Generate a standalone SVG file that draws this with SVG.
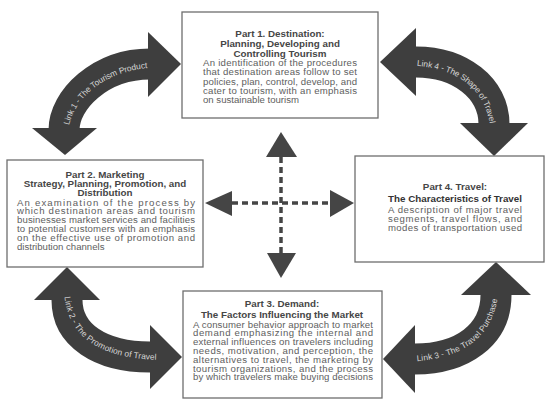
<svg xmlns="http://www.w3.org/2000/svg" width="545" height="400" viewBox="0 0 545 400">
<defs>
<style>
.box{fill:#fff;stroke:#6e6e6e;stroke-width:1.3}
.h{font-family:"Liberation Sans",Arial,sans-serif;font-size:9.8px;font-weight:bold;fill:#464646;text-anchor:middle}
.b{font-family:"Liberation Sans",Arial,sans-serif;font-size:9.6px;fill:#5e5e5e}
.band{fill:none;stroke:#3e3e3e;stroke-width:31}
.head{fill:#3e3e3e}
.lbl{font-family:"Liberation Sans",Arial,sans-serif;font-size:8.4px;fill:#d6d6d6}
.dash{stroke:#454545;stroke-width:3.5;stroke-dasharray:6 4;fill:none}
.tri{fill:#454545}
</style>
<path id="t1" d="M64,142 C64,100 100,64 165,64"/>
<path id="t4" d="M400,62 C460,62 494,88 494,140"/>
<path id="t2" d="M67,286 C67,335 100,357 167,357"/>
<path id="t3" d="M398,359 C462,359 496,335 496,280"/>
</defs>
<rect width="545" height="400" fill="#fff"/>

<g id="connectors">
  <g id="link1">
    <path class="band" d="M64,130 C64,100 100,64 150,64"/>
    <polygon class="head" points="32,128 97,128 65,155"/>
    <polygon class="head" points="148,32 148,97 181,64"/>
    <text class="lbl" dy="3"><textPath href="#t1" startOffset="50%" text-anchor="middle">Link 1 - The Tourism Product</textPath></text>
  </g>
  <g id="link4">
    <path class="band" d="M416,62 C460,62 494,88 494,124"/>
    <polygon class="head" points="416,28 416,96 380,62"/>
    <polygon class="head" points="460,123 528,123 494,156"/>
    <text class="lbl" dy="3"><textPath href="#t4" startOffset="50%" text-anchor="middle">Link 4 - The Shape of Travel</textPath></text>
  </g>
  <g id="link2">
    <path class="band" d="M67,300 C67,335 100,357 150,357"/>
    <polygon class="head" points="34,300 100,300 67,267"/>
    <polygon class="head" points="150,325 150,389 182,357"/>
    <text class="lbl" dy="3"><textPath href="#t2" startOffset="50%" text-anchor="middle">Link 2 - The Promotion of Travel</textPath></text>
  </g>
  <g id="link3">
    <path class="band" d="M415,359 C462,359 496,335 496,295"/>
    <polygon class="head" points="415,325 415,393 383,359"/>
    <polygon class="head" points="461,295 531,295 496,262"/>
    <text class="lbl" dy="3"><textPath href="#t3" startOffset="50%" text-anchor="middle">Link 3 - The Travel Purchase</textPath></text>
  </g>
  <g id="cross">
    <path class="dash" d="M232,203 H330 M281,157 V253"/>
    <polygon class="tri" points="281,132 266,157 297,157"/>
    <polygon class="tri" points="281,278 267,253 296,253"/>
    <polygon class="tri" points="205,203 232,191 232,216"/>
    <polygon class="tri" points="354,203 330,190 330,217"/>
  </g>
</g>

<g id="part1">
  <rect class="box" x="182" y="12" width="196" height="106"/>
  <text class="h" x="280" y="37">Part 1. Destination:</text>
  <text class="h" x="280" y="47">Planning, Developing and</text>
  <text class="h" x="280" y="56.5">Controlling Tourism</text>
  <text class="b" x="203" y="66" textLength="154" lengthAdjust="spacing">An identification of the procedures</text>
  <text class="b" x="203" y="75.3" textLength="154" lengthAdjust="spacing">that destination areas follow to set</text>
  <text class="b" x="203" y="84.6" textLength="154" lengthAdjust="spacing">policies, plan, control, develop, and</text>
  <text class="b" x="203" y="93.9" textLength="154" lengthAdjust="spacing">cater to tourism, with an emphasis</text>
  <text class="b" x="203" y="103.2">on sustainable tourism</text>
</g>

<g id="part2">
  <rect class="box" x="7" y="160" width="196" height="107"/>
  <text class="h" x="105" y="177.5">Part 2. Marketing</text>
  <text class="h" x="105" y="186.5">Strategy, Planning, Promotion, and</text>
  <text class="h" x="105" y="195.5">Distribution</text>
  <text class="b" x="17" y="205.5" textLength="178" lengthAdjust="spacing">An examination of the process by</text>
  <text class="b" x="17" y="214.3" textLength="178" lengthAdjust="spacing">which destination areas and tourism</text>
  <text class="b" x="17" y="223.1" textLength="178" lengthAdjust="spacing">businesses market services and facilities</text>
  <text class="b" x="17" y="231.9" textLength="178" lengthAdjust="spacing">to potential customers with an emphasis</text>
  <text class="b" x="17" y="240.7" textLength="178" lengthAdjust="spacing">on the effective use of promotion and</text>
  <text class="b" x="17" y="249.5">distribution channels</text>
</g>

<g id="part4">
  <rect class="box" x="355" y="156" width="189" height="106"/>
  <text class="h" x="455" y="189.5">Part 4. Travel:</text>
  <text class="h" x="455" y="201.5" style="fill:#333">The Characteristics of Travel</text>
  <text class="b" x="388" y="213" textLength="134" lengthAdjust="spacing">A description of major travel</text>
  <text class="b" x="388" y="221.8" textLength="134" lengthAdjust="spacing">segments, travel flows, and</text>
  <text class="b" x="388" y="230.6" textLength="134" lengthAdjust="spacing">modes of transportation used</text>
</g>

<g id="part3">
  <rect class="box" x="183" y="291" width="199" height="107"/>
  <text class="h" x="282" y="306.5">Part 3. Demand:</text>
  <text class="h" x="282" y="317.5">The Factors Influencing the Market</text>
  <text class="b" x="193" y="327.5" textLength="180" lengthAdjust="spacing">A consumer behavior approach to market</text>
  <text class="b" x="193" y="336.3" textLength="180" lengthAdjust="spacing">demand emphasizing the internal and</text>
  <text class="b" x="193" y="345.1" textLength="180" lengthAdjust="spacing">external influences on travelers including</text>
  <text class="b" x="193" y="353.9" textLength="180" lengthAdjust="spacing">needs, motivation, and perception, the</text>
  <text class="b" x="193" y="362.7" textLength="180" lengthAdjust="spacing">alternatives to travel, the marketing by</text>
  <text class="b" x="193" y="371.5" textLength="180" lengthAdjust="spacing">tourism organizations, and the process</text>
  <text class="b" x="193" y="380.3" textLength="180" lengthAdjust="spacing">by which travelers make buying decisions</text>
</g>
</svg>
